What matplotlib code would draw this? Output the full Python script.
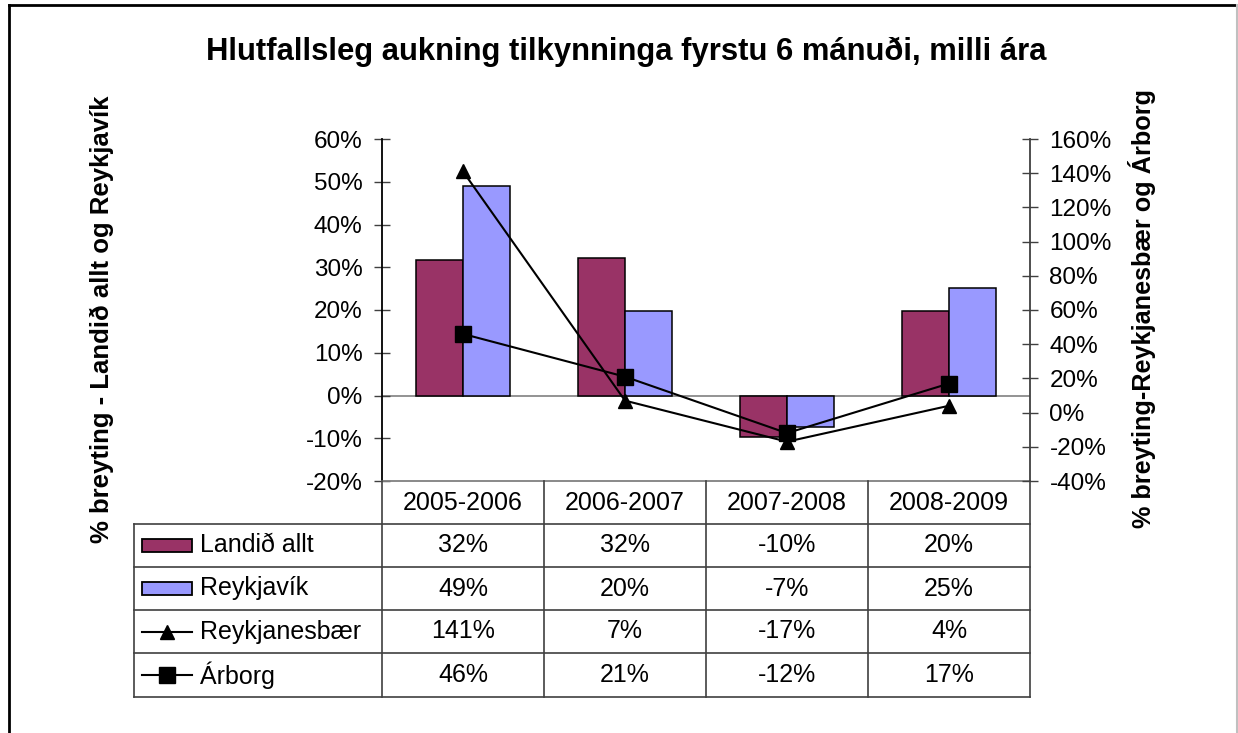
import matplotlib
matplotlib.use("Agg")
import matplotlib.pyplot as plt
from matplotlib.patches import Rectangle
from matplotlib.lines import Line2D
import numpy as np

plt.rcParams['font.family'] = ['Liberation Sans', 'DejaVu Sans']

# ---- data ----
categories = ["2005-2006", "2006-2007", "2007-2008", "2008-2009"]
landid = [31.6, 32.2, -9.6, 19.7]
reykjavik = [49.0, 19.7, -7.3, 25.2]
reykjanesbaer = [141, 7, -17, 4]
arborg = [46, 21, -12, 17]
table_landid = ["32%", "32%", "-10%", "20%"]
table_reykjavik = ["49%", "20%", "-7%", "25%"]
table_reykjanesbaer = ["141%", "7%", "-17%", "4%"]
table_arborg = ["46%", "21%", "-12%", "17%"]
left_ticks = [-20, -10, 0, 10, 20, 30, 40, 50, 60]
right_ticks = [-40, -20, 0, 20, 40, 60, 80, 100, 120, 140, 160]

title = "Hlutfallsleg aukning tilkynninga fyrstu 6 mánuði, milli ára"
left_label = "% breyting - Landið allt og Reykjavík"
right_label = "% breyting-Reykjanesbær og Árborg"

C_LAND = "#993366"
C_REYK = "#9999FF"

W, H = 1238, 733
fig = plt.figure(figsize=(W / 100, H / 100), dpi=100)

def fx(x):
    return x / W

def fy(y):
    return 1 - y / H

# axes in pixel geometry
ax_l, ax_r, ax_t, ax_b = 382, 1030, 139, 481
ax = fig.add_axes([fx(ax_l), fy(ax_b), fx(ax_r) - fx(ax_l), fy(ax_t) - fy(ax_b)])
ax2 = ax.twinx()

n = len(categories)
x = np.arange(n)
bw = 0.29
ax.bar(x - bw / 2, landid, bw, color=C_LAND, edgecolor="black", linewidth=1.1, zorder=2)
ax.bar(x + bw / 2, reykjavik, bw, color=C_REYK, edgecolor="black", linewidth=1.1, zorder=2)
ax.axhline(0, color="#808080", linewidth=1.2, zorder=1)
ax.set_xlim(-0.5, n - 0.5)
ax.set_ylim(-20, 60)
ax.set_yticks(left_ticks)
ax.set_yticklabels([f"{t}%" for t in left_ticks])
ax.set_xticks([])

ax2.plot(x, reykjanesbaer, color="black", linewidth=1.5, marker="^", markersize=10, zorder=3)
ax2.plot(x, arborg, color="black", linewidth=1.5, marker="s", markersize=12, zorder=3)
ax2.set_ylim(-40, 160)
ax2.set_yticks(right_ticks)
ax2.set_yticklabels([f"{t}%" for t in right_ticks])

fs_tick = 17.5
for a in (ax, ax2):
    a.spines['top'].set_visible(False)
    a.tick_params(axis='y', direction='inout', length=12, width=1.0, color='#404040',
                  labelsize=fs_tick, pad=8)
ax.spines['right'].set_visible(False)
ax.spines['left'].set_color('black')
ax.spines['left'].set_linewidth(1.3)
ax.spines['bottom'].set_color('#808080')
ax.spines['bottom'].set_linewidth(1.3)
ax2.spines['left'].set_visible(False)
ax2.spines['bottom'].set_visible(False)
ax2.spines['right'].set_color('#404040')
ax2.spines['right'].set_linewidth(1.3)
ax.patch.set_visible(False)

# ---- title and axis labels ----
fig.text(fx(626), fy(52), title, ha='center', va='center', fontsize=22.3, fontweight='bold')
fig.text(fx(102), fy(319), left_label, ha='center', va='center', rotation=90,
         fontsize=18.5, fontweight='bold')
fig.text(fx(1142), fy(308), right_label, ha='center', va='center', rotation=90,
         fontsize=18.2, fontweight='bold')

# ---- data table ----
lc = "#404040"
lw = 1.2
col_edges = [ax_l + (ax_r - ax_l) * i / n for i in range(n + 1)]
row_edges = [481, 524, 567, 610, 653, 697]
tab_left = 134

def hline(y, x0, x1, color=lc):
    fig.add_artist(Line2D([fx(x0), fx(x1)], [fy(y), fy(y)], color=color, linewidth=lw))

def vline(xp, y0, y1, color=lc):
    fig.add_artist(Line2D([fx(xp), fx(xp)], [fy(y0), fy(y1)], color=color, linewidth=lw))

for y in row_edges[1:]:
    hline(y, tab_left, ax_r)
for xc in col_edges:
    vline(xc, row_edges[0], row_edges[-1])
vline(tab_left, row_edges[1], row_edges[-1])

fs_tab = 18
for i, c in enumerate(categories):
    xc = (col_edges[i] + col_edges[i + 1]) / 2
    fig.text(fx(xc), fy((row_edges[0] + row_edges[1]) / 2), c, ha='center', va='center', fontsize=fs_tab)

rows = [
    ("Landið allt", table_landid, "bar", C_LAND),
    ("Reykjavík", table_reykjavik, "bar", C_REYK),
    ("Reykjanesbær", table_reykjanesbaer, "^", None),
    ("Árborg", table_arborg, "s", None),
]
for r, (name, vals, kind, col) in enumerate(rows):
    y0, y1 = row_edges[r + 1], row_edges[r + 2]
    yc = (y0 + y1) / 2
    if kind == "bar":
        fig.add_artist(Rectangle((fx(142), fy(yc + 6.5)), fx(192) - fx(142), fy(yc - 6.5) - fy(yc + 6.5),
                                 facecolor=col, edgecolor="black", linewidth=1.3))
    else:
        fig.add_artist(Line2D([fx(142), fx(192)], [fy(yc), fy(yc)], color="black", linewidth=1.5))
        fig.add_artist(Line2D([fx(167)], [fy(yc)], color="black", marker=kind,
                              markersize=10 if kind == "^" else 12, linestyle="none"))
    fig.text(fx(200), fy(yc), name, ha='left', va='center', fontsize=fs_tab)
    for i, v in enumerate(vals):
        xc = (col_edges[i] + col_edges[i + 1]) / 2
        fig.text(fx(xc), fy(yc), v, ha='center', va='center', fontsize=fs_tab)

# ---- chart border ----
fig.add_artist(Line2D([fx(9), fx(9)], [fy(5), fy(H + 5)], color="black", linewidth=2))
fig.add_artist(Line2D([fx(9), fx(1237)], [fy(5), fy(5)], color="black", linewidth=2))
fig.add_artist(Line2D([fx(1237), fx(1237)], [fy(5), fy(H + 5)], color="#c0c0c0", linewidth=1.5))

fig.savefig("out.png", dpi=100)
